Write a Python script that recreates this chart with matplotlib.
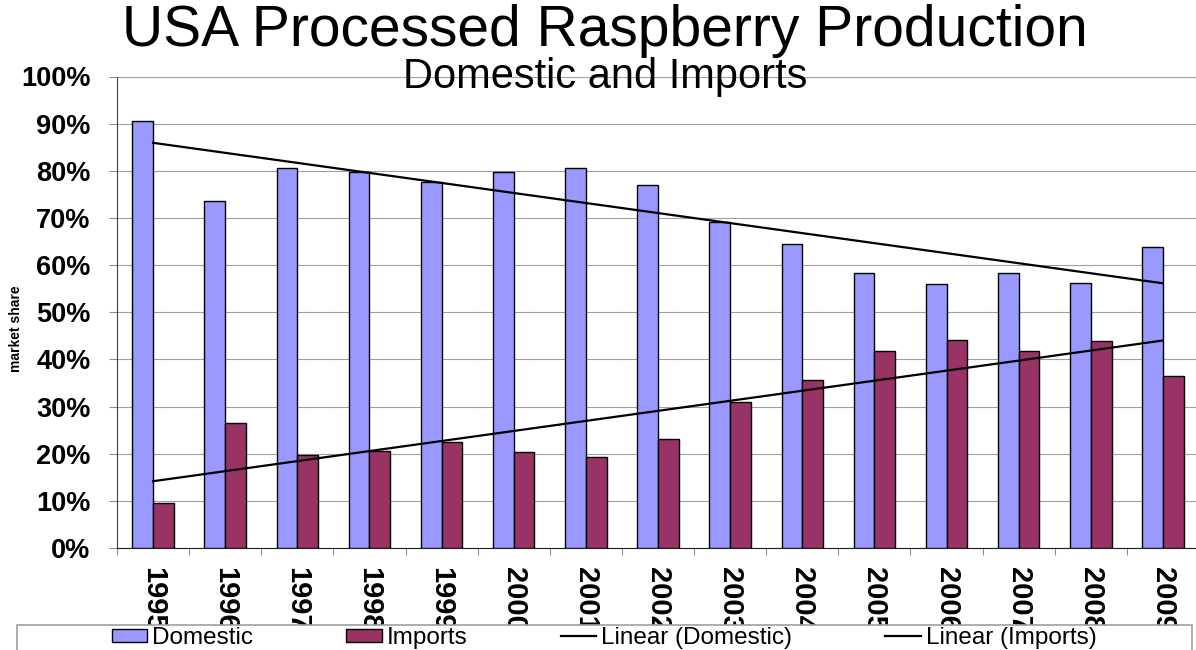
import matplotlib
matplotlib.use("Agg")
import matplotlib.pyplot as plt
from matplotlib.patches import Patch, Rectangle
from matplotlib.lines import Line2D
import numpy as np

plt.rcParams['font.family'] = ['Liberation Sans', 'DejaVu Sans']

years = ['1995', '1996', '1997', '1998', '1999', '2000', '2001', '2002',
         '2003', '2004', '2005', '2006', '2007', '2008', '2009']
domestic = [90.5, 73.6, 80.5, 79.7, 77.6, 79.8, 80.5, 77.0,
            69.1, 64.5, 58.3, 56.0, 58.4, 56.3, 63.8]
imports = [9.6, 26.5, 19.7, 20.5, 22.5, 20.4, 19.4, 23.1,
           30.9, 35.7, 41.8, 44.1, 41.8, 43.9, 36.4]

dom_color = '#9999FF'
imp_color = '#993366'

W, H = 1196, 650
fig = plt.figure(figsize=(W / 100, H / 100), dpi=100)

# plot area runs a little past the right edge, like the original slide
ax = fig.add_axes([117 / W, (H - 548) / H, 1082 / W, 471.5 / H])

x = np.arange(len(years))
bw = 0.287
ax.bar(x - bw / 2, np.array(domestic) / 100, bw, color=dom_color,
       edgecolor='black', linewidth=1.0, zorder=3)
ax.bar(x + bw / 2, np.array(imports) / 100, bw, color=imp_color,
       edgecolor='black', linewidth=1.0, zorder=3)

# linear trend lines
for series in (domestic, imports):
    k, b = np.polyfit(x, np.array(series) / 100, 1)
    ax.plot([x[0], x[-1]], [k * x[0] + b, k * x[-1] + b], color='black',
            linewidth=1.6, zorder=4)

ax.set_xlim(-0.5, len(years) - 0.5)
ax.set_ylim(0, 1)
ax.set_yticks(np.arange(0, 1.01, 0.1))
ax.set_yticklabels(['%d%%' % v for v in range(0, 101, 10)],
                   fontsize=19.5, fontweight='bold')
ax.yaxis.grid(True, color='#a0a0a0', linewidth=0.8, zorder=0)
ax.set_axisbelow(True)
ax.tick_params(axis='y', direction='out', length=6, width=0.8,
               color='#909090', pad=13)

ax.set_xticks(x)
ax.set_xticklabels(years, rotation=-90, fontsize=21, fontweight='bold',
                   ha='center', va='top')
ax.set_xticks(np.arange(-0.5, len(years), 1.0), minor=True)
ax.tick_params(axis='x', which='major', length=0, pad=14)
ax.tick_params(axis='x', which='minor', direction='out', length=5,
               width=0.8, color='#909090')

for s in ('top', 'right'):
    ax.spines[s].set_visible(False)
ax.spines['left'].set_color('#404040')
ax.spines['bottom'].set_color('#202020')

fig.text(16 / W, (H - 329) / H, 'market share', rotation=90,
         ha='center', va='center', fontsize=10, fontweight='bold',
         family=['Liberation Sans Narrow', 'Liberation Sans'])

fig.text(605 / W, (H - 46) / H, 'USA Processed Raspberry Production',
         ha='center', va='baseline', fontsize=41)
fig.text(605 / W, (H - 88) / H, 'Domestic and Imports',
         ha='center', va='baseline', fontsize=30)

# legend box along the bottom
fig.patches.append(Rectangle((17 / W, -0.05), (1192 - 17) / W,
                             (H - 625) / H + 0.05, transform=fig.transFigure,
                             facecolor='white', edgecolor='#a0a0a0',
                             linewidth=1.2, zorder=4))
handles = [Patch(facecolor=dom_color, edgecolor='black', linewidth=1.0),
           Patch(facecolor=imp_color, edgecolor='black', linewidth=1.0),
           Line2D([], [], color='black', linewidth=1.6),
           Line2D([], [], color='black', linewidth=1.6)]
labels = ['Domestic', 'Imports', 'Linear (Domestic)', 'Linear (Imports)']
leg = fig.legend(handles, labels, loc='center', ncol=4,
                 bbox_to_anchor=(604 / W, 12 / H), frameon=False,
                 fontsize=17.5, handlelength=1.45, handleheight=0.45,
                 handletextpad=0.2, columnspacing=3.85, borderpad=0)
leg.set_zorder(5)

fig.savefig('out.png', dpi=100)
